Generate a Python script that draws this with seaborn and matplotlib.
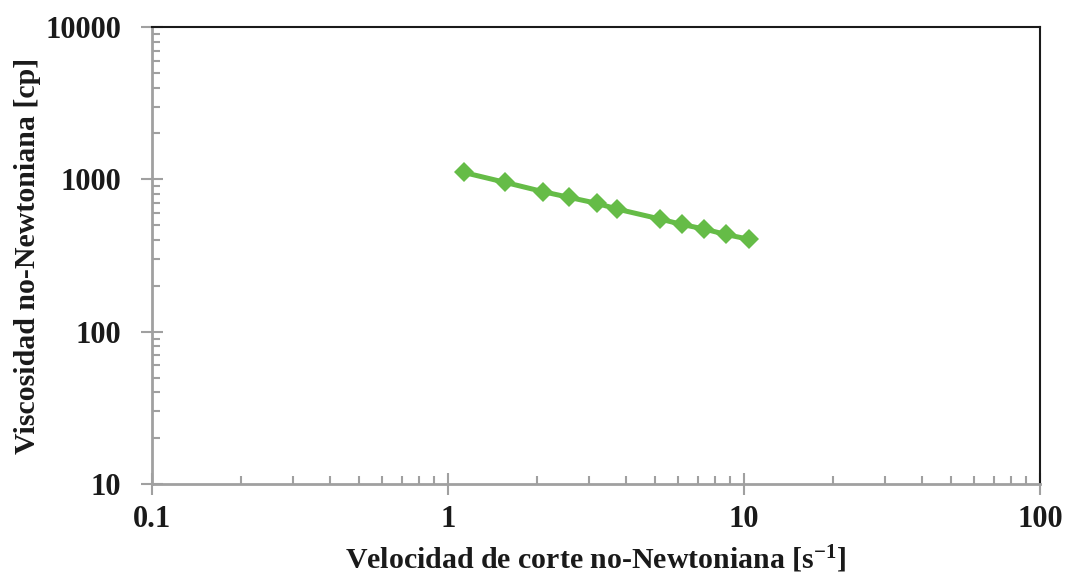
import matplotlib
matplotlib.use("Agg")
import matplotlib.pyplot as plt
import matplotlib.ticker as mticker
import seaborn as sns
import pandas as pd

shear_rate = [1.13, 1.56, 2.10, 2.56, 3.18, 3.73, 5.20, 6.16, 7.34, 8.67, 10.4]
viscosity = [1110, 955, 829, 762, 696, 638, 549, 506, 472, 435, 404]
x_ticks = [0.1, 1, 10, 100]
x_tick_labels = ["0.1", "1", "10", "100"]
y_ticks = [10, 100, 1000, 10000]
y_tick_labels = ["10", "100", "1000", "10000"]

sns.set_theme(style="white")
plt.rcParams["font.family"] = ["Liberation Serif", "DejaVu Serif"]
plt.rcParams["font.weight"] = "bold"
plt.rcParams["mathtext.fontset"] = "custom"
plt.rcParams["mathtext.rm"] = "Liberation Serif:bold"
plt.rcParams["mathtext.default"] = "rm"

df = pd.DataFrame({"x": shear_rate, "y": viscosity})

fig = plt.figure(figsize=(10.65, 5.77), dpi=100)
ax = fig.add_axes([0.1427, 0.1612, 0.9765 - 0.1427, 0.9532 - 0.1612])

sns.lineplot(data=df, x="x", y="y", ax=ax, color="#65BC47", linewidth=3.6,
             marker="D", markersize=10, markeredgewidth=0, sort=False)

ax.set_xscale("log")
ax.set_yscale("log")
ax.set_xlim(0.1, 100)
ax.set_ylim(10, 10000)

ax.set_xticks(x_ticks)
ax.set_xticklabels(x_tick_labels)
ax.set_yticks(y_ticks)
ax.set_yticklabels(y_tick_labels)
ax.xaxis.set_minor_locator(mticker.LogLocator(base=10, subs=range(2, 10)))
ax.yaxis.set_minor_locator(mticker.LogLocator(base=10, subs=range(2, 10)))
ax.xaxis.set_minor_formatter(mticker.NullFormatter())
ax.yaxis.set_minor_formatter(mticker.NullFormatter())

gray = "#A0A0A0"
ax.tick_params(axis="both", which="major", direction="inout", length=16, width=1.5,
               color=gray, labelsize=22, labelcolor="#1a1a1a")
ax.tick_params(axis="x", which="major", pad=7)
ax.tick_params(axis="y", which="major", pad=14)
ax.tick_params(axis="both", which="minor", direction="in", length=6, width=1.5, color=gray)
ax.tick_params(bottom=True, left=True, top=False, right=False)
ax.tick_params(which="minor", bottom=True, left=True, top=False, right=False)
for lab in ax.get_xticklabels() + ax.get_yticklabels():
    lab.set_fontweight("bold")

ax.spines["left"].set_color(gray)
ax.spines["bottom"].set_color(gray)
ax.spines["left"].set_linewidth(2)
ax.spines["bottom"].set_linewidth(2)
ax.spines["top"].set_color("#1a1a1a")
ax.spines["right"].set_color("#1a1a1a")
ax.spines["top"].set_linewidth(1.5)
ax.spines["right"].set_linewidth(1.5)
for s in ax.spines.values():
    s.set_visible(True)
ax.grid(False)

ax.set_xlabel("Velocidad de corte no-Newtoniana [s$^{-1}$]", fontsize=21.5,
              fontweight="bold", color="#1a1a1a")
ax.set_ylabel("Viscosidad no-Newtoniana [cp]", fontsize=21.5, fontweight="bold",
              color="#1a1a1a")
ax.xaxis.set_label_coords(0.5, -0.13)
ax.yaxis.set_label_coords(-0.125, 0.5)

fig.savefig("out.png", dpi=100, facecolor="white")
